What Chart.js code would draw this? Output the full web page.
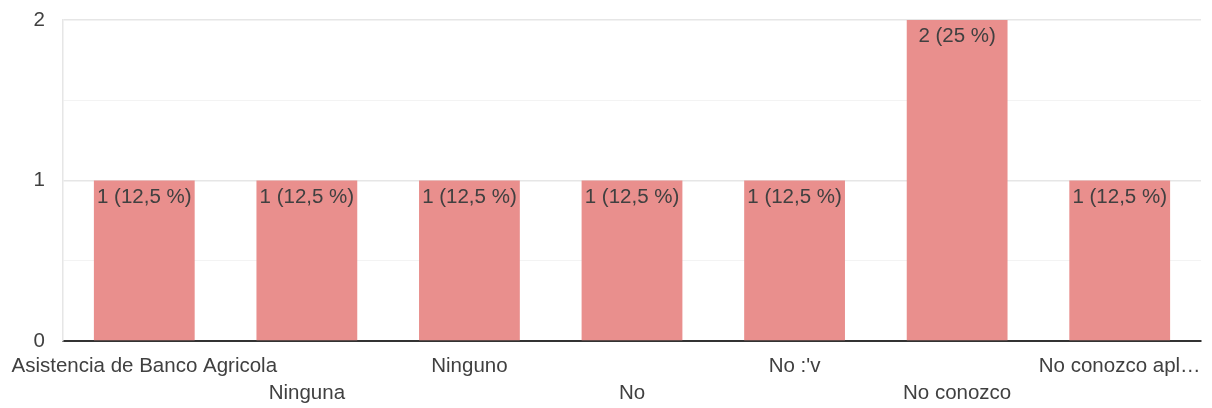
<!DOCTYPE html>
<html>
<head>
<meta charset="utf-8">
<script src="https://cdn.jsdelivr.net/npm/chart.js@4/dist/chart.umd.min.js"></script>
<style>
  html, body { margin: 0; padding: 0; background: #fff; }
  #wrap { width: 1212px; height: 408px; position: relative; }
</style>
</head>
<body>
<div id="wrap"><canvas id="c"></canvas></div>
<script>
// Responses per answer
const categories = [
  'Asistencia de Banco Agricola',
  'Ninguna',
  'Ninguno',
  'No',
  "No :'v",
  'No conozco',
  'No conozco apl\u2026'
];
const counts = [1, 1, 1, 1, 1, 2, 1];
const valueLabels = ['1 (12,5 %)', '1 (12,5 %)', '1 (12,5 %)', '1 (12,5 %)', '1 (12,5 %)', '2 (25 %)', '1 (12,5 %)'];
const yTickLabels = ['0', '1', '2'];

const FONT = '"Liberation Sans", Arial, sans-serif';
const TEXT = '#404040';

// Alternate category labels between two rows so long names do not collide
const xLabels = categories.map((c, i) => (i % 2 === 1 ? ['', c] : [c]));

const valueLabelPlugin = {
  id: 'valueLabels',
  afterDatasetsDraw(chart) {
    const ctx = chart.ctx;
    const meta = chart.getDatasetMeta(0);
    ctx.save();
    ctx.font = '20.5px ' + FONT;
    ctx.fillStyle = TEXT;
    ctx.textAlign = 'center';
    ctx.textBaseline = 'middle';
    meta.data.forEach((bar, i) => {
      ctx.fillText(valueLabels[i], bar.x, bar.y + 16.5);
    });
    ctx.restore();
  }
};

new Chart(document.getElementById('c'), {
  type: 'bar',
  data: {
    labels: xLabels,
    datasets: [{
      data: counts,
      backgroundColor: '#e98f8d',
      borderWidth: 0,
      barPercentage: 0.62,
      categoryPercentage: 1
    }]
  },
  options: {
    responsive: true,
    maintainAspectRatio: false,
    animation: false,
    layout: { padding: { top: 20, right: 11, left: 0, bottom: 0 } },
    plugins: {
      legend: { display: false },
      tooltip: { enabled: false }
    },
    scales: {
      x: {
        offset: true,
        grid: {
          drawTicks: false,
          color: (c) => (c.index === categories.length ? '#e8e8e8' : 'rgba(0,0,0,0)'),
          lineWidth: 1.5
        },
        border: { display: true, color: '#333333', width: 2 },
        ticks: {
          autoSkip: false,
          maxRotation: 0,
          minRotation: 0,
          padding: 12,
          color: TEXT,
          font: { family: FONT, size: 20.5, lineHeight: '27px' }
        },
        afterFit: (s) => { s.height = 67; s.paddingLeft = 0; s.paddingRight = 0; }
      },
      y: {
        min: 0,
        max: 2,
        grid: {
          drawTicks: false,
          color: (c) => (Number.isInteger(c.tick.value) ? '#e6e6e6' : '#f3f3f3'),
          lineWidth: (c) => (Number.isInteger(c.tick.value) ? 1.5 : 1)
        },
        border: { display: true, color: '#e6e6e6', width: 1.5 },
        ticks: {
          stepSize: 0.5,
          padding: 18,
          color: TEXT,
          font: { family: FONT, size: 20.5 },
          callback: (v) => (Number.isInteger(v) ? yTickLabels[v] : '')
        },
        afterFit: (s) => { s.width = 63; s.paddingTop = 0; s.paddingBottom = 0; }
      }
    }
  },
  plugins: [valueLabelPlugin]
});
</script>
</body>
</html>
